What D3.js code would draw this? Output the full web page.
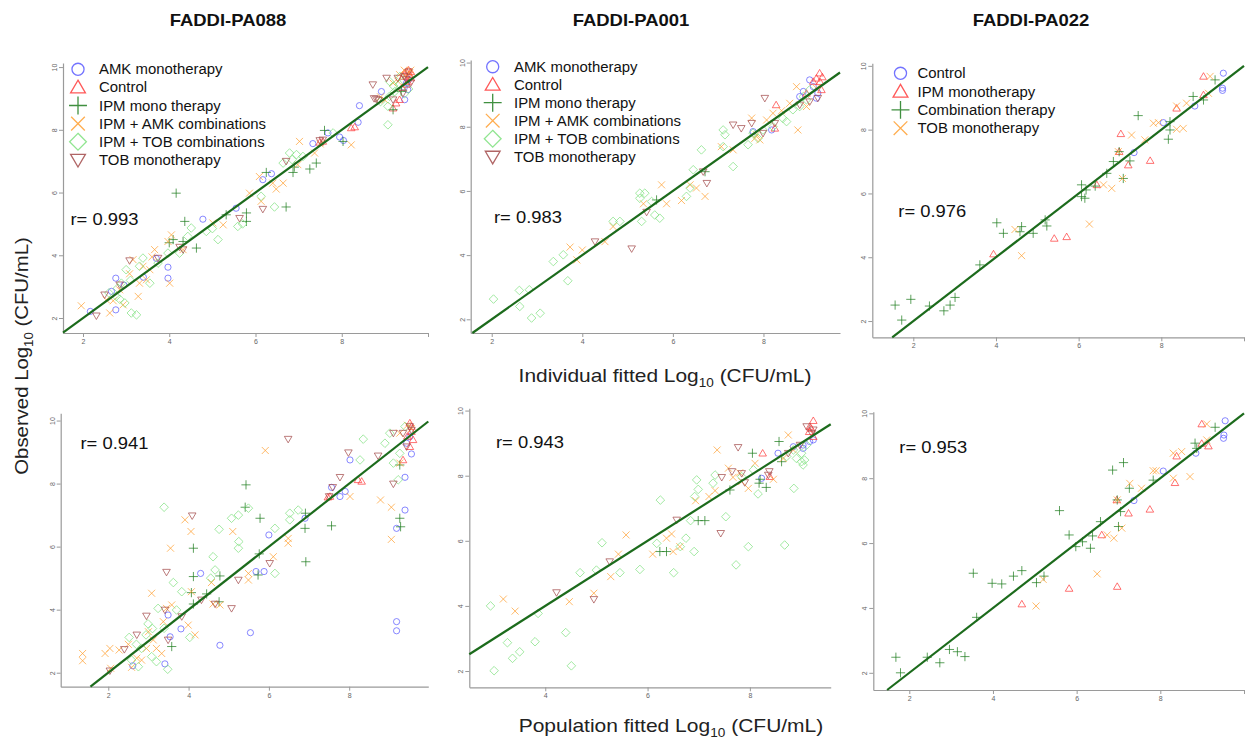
<!DOCTYPE html>
<html><head><meta charset="utf-8">
<script src="https://cdn.jsdelivr.net/npm/d3@7"></script>
<style>body{margin:0;background:#fff}svg{display:block}</style>
</head><body>
<svg id="c" width="1247" height="747"></svg>
<script>
// ---------------- DATA ----------------
const titles = ["FADDI-PA088", "FADDI-PA001", "FADDI-PA022"];
const rValues = ["r= 0.993", "r= 0.983", "r= 0.976", "r= 0.941", "r= 0.943", "r= 0.953"];
const legendNamesA = ["AMK monotherapy", "Control", "IPM mono therapy", "IPM + AMK combinations", "IPM + TOB combinations", "TOB monotherapy"];
const legendNamesB = ["Control", "IPM monotherapy", "Combination therapy", "TOB monotherapy"];
const xTickValues = [2, 4, 6, 8, 10];
const yTickValues = [2, 4, 6, 8, 10];

// Panel 1: FADDI-PA088 individual fit
const p1_amk = [[2.17,2.21],[2.76,3.27],[2.76,2.26],[2.66,2.85],[3.97,3.62],[3.97,3.27],[3.70,3.90],[4.78,5.15],[5.55,5.50],[6.37,6.60],[6.17,6.41],[7.68,7.90],[7.33,7.56],[7.95,7.77],[8.04,7.66],[8.41,8.77],[8.38,8.24],[8.92,9.22],[9.46,8.96],[9.53,9.28],[9.50,9.49],[9.55,9.60],[9.45,9.35],[3.40,3.30],[2.95,3.05]];
const p1_ctrl = [[9.50,9.86],[9.57,9.76],[9.42,9.70],[9.53,9.54],[9.34,8.96],[9.26,8.85],[9.19,8.69],[8.22,8.06],[8.30,8.09],[7.56,7.63],[7.49,7.60],[9.55,9.90],[9.45,9.80],[9.60,9.65],[9.50,9.45],[9.40,9.35],[9.60,9.85]];
const p1_ipm = [[4.16,5.98],[4.36,5.08],[4.09,4.50],[4.63,4.23],[4.32,4.44],[6.71,5.54],[5.79,5.35],[5.79,5.08],[6.25,6.64],[6.87,6.64],[6.90,6.81],[7.26,6.75],[7.41,6.94],[7.60,7.98],[8.03,7.63],[9.19,8.64],[9.38,9.22],[5.32,5.29],[4.00,4.40]];
const p1_amkc = [[1.96,2.39],[2.62,2.16],[2.93,2.42],[3.28,2.69],[3.31,3.11],[3.16,3.86],[3.66,4.18],[4.05,4.65],[4.01,3.11],[3.97,4.44],[4.32,4.18],[5.25,4.97],[5.01,5.03],[5.86,5.98],[6.13,5.72],[6.09,6.51],[6.40,6.30],[6.48,6.11],[6.64,6.30],[6.98,6.89],[7.02,7.63],[7.37,7.26],[8.22,7.52],[9.34,9.76],[9.19,9.49],[9.57,9.81],[3.39,3.65],[3.08,3.41],[3.47,3.22],[2.54,2.58],[2.85,2.90],[3.55,3.54],[9.45,9.90],[9.60,9.90],[9.30,9.55],[9.50,9.70],[8.90,9.05],[9.00,8.95],[2.70,2.55],[3.60,3.95],[7.50,7.55]];
const p1_tobc = [[3.24,2.10],[3.12,2.16],[2.97,2.48],[2.77,2.69],[2.89,3.11],[3.00,3.54],[3.31,3.65],[3.55,3.11],[3.39,3.91],[3.74,3.75],[3.97,4.07],[4.24,4.07],[4.43,4.60],[4.51,4.87],[4.86,4.76],[5.13,4.50],[5.59,4.92],[6.13,5.88],[6.44,5.54],[6.64,6.94],[6.79,7.26],[6.95,7.21],[7.10,7.15],[9.07,8.16],[9.07,8.75],[9.11,9.07],[9.23,9.22],[9.34,9.44],[9.11,9.54],[7.80,7.90],[9.35,9.70],[9.55,9.30],[9.20,9.40],[9.45,9.15],[8.90,8.90],[2.80,2.95],[2.60,2.80],[2.85,2.60],[3.10,3.20],[5.00,4.85],[5.70,5.00],[6.85,7.05]];
const p1_tob = [[2.31,2.07],[2.50,2.74],[2.85,3.06],[3.08,3.83],[3.74,3.91],[4.32,4.18],[4.24,4.26],[5.63,5.18],[6.17,5.47],[6.71,7.00],[7.49,7.66],[7.56,7.68],[8.72,9.44],[9.04,9.65],[8.80,8.98],[9.30,9.65],[9.50,9.60],[9.42,9.17],[9.19,8.96],[9.55,9.85],[9.45,9.70],[9.60,9.50],[8.75,9.00],[8.85,8.95]];

// Panel 2: FADDI-PA001 individual fit
const p2_amk = [[9.02,9.46],[8.88,9.10],[9.17,8.89],[8.18,7.90],[7.77,7.85],[9.10,9.25],[8.80,8.94],[9.20,9.05]];
const p2_ctrl = [[9.24,9.67],[9.17,9.51],[9.28,9.15],[9.10,9.41],[8.28,8.68],[8.25,7.95],[8.95,9.04],[9.25,9.40],[9.30,9.55]];
const p2_ipm = [[5.64,5.72],[6.71,6.60]];
const p2_amkc = [[3.73,4.25],[3.88,3.85],[4.00,4.16],[4.50,4.42],[4.68,4.89],[5.35,5.60],[5.75,6.19],[5.86,5.60],[6.19,5.70],[6.38,6.19],[6.52,6.09],[6.71,5.83],[7.07,7.38],[7.33,7.28],[7.74,8.27],[7.81,7.64],[7.92,7.59],[8.07,8.21],[8.76,7.90],[8.73,9.25],[8.58,8.73],[8.95,8.63],[9.17,9.20],[8.21,8.42],[7.85,7.75],[8.40,8.50]];
const p2_tobc = [[2.04,2.63],[2.61,2.90],[2.62,2.40],[2.83,2.92],[2.88,2.04],[3.07,2.19],[3.36,3.80],[3.58,4.01],[3.68,3.20],[4.68,5.05],[4.83,5.05],[5.31,5.05],[5.27,5.93],[5.38,5.93],[5.27,5.77],[5.60,5.25],[5.71,5.15],[5.53,5.67],[6.30,5.83],[6.38,6.09],[6.45,6.66],[6.63,7.28],[7.11,7.90],[7.15,7.75],[7.11,7.38],[7.33,6.76],[7.66,7.44],[7.88,7.64],[8.21,8.00],[8.51,8.16],[8.65,8.53],[8.80,8.63],[8.88,8.94],[8.95,8.84],[8.43,8.26],[7.77,7.80],[7.99,7.90],[9.02,9.15]];
const p2_tob = [[4.28,4.42],[5.09,4.20],[5.42,5.34],[6.67,6.60],[6.75,6.24],[7.33,8.06],[7.51,7.95],[7.74,8.11],[8.03,8.89],[7.99,7.80],[8.25,8.11],[8.80,8.68],[9.20,8.89],[9.02,8.78]];

// Panel 3: FADDI-PA022 individual fit
const p3_ctrl = [[9.50,9.77],[9.48,9.30],[9.48,9.23],[8.81,8.74],[8.05,8.22],[7.34,7.28]];
const p3_ipm = [[9.02,9.67],[9.02,9.09],[8.37,8.67],[7.02,7.87],[6.98,7.31],[7.20,6.89],[7.73,7.03],[6.44,6.27],[5.71,4.64],[5.41,4.59],[3.94,4.10]];
const p3_comb = [[1.56,2.50],[1.72,2.03],[1.94,2.68],[2.39,2.47],[2.74,2.32],[2.89,2.50],[3.01,2.74],[3.61,3.76],[4.02,5.08],[4.18,4.75],[4.58,4.80],[4.62,4.96],[4.90,4.75],[5.19,5.17],[5.23,4.98],[6.07,6.27],[6.07,5.90],[6.15,5.85],[6.18,6.11],[6.40,6.23],[6.68,6.63],[6.84,7.00],[7.24,7.02],[7.08,6.47],[7.44,8.44],[8.17,7.70],[8.21,7.99],[8.21,8.25],[8.77,9.04],[9.02,8.93],[9.30,9.56],[6.98,7.31]];
const p3_tob = [[4.46,4.87],[4.62,4.05],[6.26,5.04],[6.60,6.27],[6.80,6.16],[7.06,6.47],[7.28,7.83],[7.60,7.68],[7.81,8.20],[7.93,8.22],[8.37,8.74],[8.37,8.01],[8.53,8.04],[8.61,8.83],[9.14,9.14],[9.18,9.67],[6.96,7.31]];

// Panel 4: FADDI-PA088 population fit
const p4_amk = [[2.61,2.22],[3.41,2.28],[3.49,3.83],[3.54,3.14],[3.81,3.39],[4.30,5.15],[4.78,2.87],[5.54,3.27],[5.88,5.21],[6.00,6.37],[5.68,5.21],[6.90,6.90],[7.56,7.88],[7.77,7.59],[7.90,7.75],[8.02,8.75],[9.18,3.62],[9.18,3.33],[9.18,6.58],[9.39,7.16],[9.39,8.20],[9.55,8.94],[9.51,9.49],[9.43,9.28]];
const p4_ctrl = [[8.31,8.07],[8.22,8.12],[9.34,8.75],[9.51,9.17],[9.55,9.81],[9.55,9.65],[9.59,9.39],[9.51,9.92],[7.52,7.59],[7.47,7.57],[9.45,9.50]];
const p4_ipm = [[4.12,5.95],[4.12,5.05],[4.07,4.54],[4.12,4.18],[4.45,4.50],[4.78,5.07],[4.76,4.25],[5.43,7.96],[5.41,7.25],[5.76,5.77],[5.78,6.90],[5.73,5.10],[6.91,7.06],[6.90,6.58],[6.92,5.52],[7.56,6.66],[9.26,6.90],[9.28,6.63],[9.26,8.59],[3.58,2.83]];
const p4_amkc = [[1.36,2.61],[1.36,2.38],[1.92,2.61],[2.04,2.77],[2.06,2.14],[2.27,2.72],[2.58,2.17],[2.71,2.46],[2.83,2.40],[2.95,2.77],[3.12,3.04],[3.08,4.52],[3.20,2.77],[3.33,2.61],[3.37,3.62],[3.45,4.04],[3.55,5.95],[3.58,4.15],[3.91,6.85],[4.06,6.48],[3.99,3.51],[4.16,3.20],[4.57,4.86],[4.61,4.18],[4.78,4.15],[5.10,6.48],[5.49,5.15],[5.49,4.94],[5.91,9.05],[6.11,5.68],[6.48,6.26],[6.48,6.11],[8.02,7.59],[8.78,7.48],[9.05,7.25],[9.05,6.23],[9.26,8.65],[9.26,9.60],[4.07,4.57],[2.50,2.90],[3.00,3.30],[9.45,9.85],[9.55,9.75]];
const p4_tobc = [[2.52,3.12],[2.58,2.40],[2.75,2.19],[2.83,2.77],[2.94,3.20],[2.99,3.55],[3.08,2.51],[3.20,2.35],[3.48,2.11],[3.24,4.04],[3.39,7.25],[3.39,3.41],[3.62,4.86],[3.70,3.99],[3.83,4.57],[4.03,3.12],[4.61,5.68],[4.66,5.26],[4.76,6.55],[5.07,6.90],[5.24,7.00],[5.25,6.16],[5.24,5.95],[5.49,7.22],[6.15,6.58],[6.15,5.15],[6.52,7.06],[6.52,6.85],[6.73,7.16],[8.27,8.75],[8.35,9.41],[8.89,9.28],[9.01,9.60],[9.10,8.65],[9.22,8.12],[9.26,8.96],[9.39,9.81],[2.70,2.90],[3.10,3.40],[4.55,5.00]];
const p4_tob = [[2.04,2.06],[2.40,2.74],[2.71,3.20],[2.95,3.80],[3.41,3.99],[3.45,5.19],[3.49,3.04],[3.83,3.78],[4.09,6.98],[4.32,4.31],[4.66,4.18],[5.07,4.04],[5.24,4.94],[6.02,5.47],[6.48,9.41],[7.59,7.88],[7.77,8.20],[7.98,8.98],[8.72,8.88],[9.10,9.60],[9.10,7.99],[9.34,9.60],[9.43,9.17],[9.51,9.81],[7.50,7.59],[9.55,9.70]];

// Panel 5: FADDI-PA001 population fit
const p5_amk = [[8.23,7.92],[8.55,8.69],[9.04,8.94],[9.17,9.05],[9.04,8.84],[8.85,8.89],[9.24,9.10]];
const p5_ctrl = [[8.25,8.69],[8.39,7.97],[9.24,9.69],[9.17,9.51],[9.24,9.20],[9.16,9.35],[9.20,9.45]];
const p5_ipm = [[6.24,5.67],[6.37,5.67],[6.99,6.62],[7.12,6.62],[7.61,7.56],[8.05,8.69],[8.18,7.77],[8.32,7.64],[8.57,9.05],[8.62,8.43],[8.20,7.89]];
const p5_amkc = [[3.18,4.21],[3.41,3.84],[4.47,4.13],[4.95,4.39],[5.28,4.90],[5.43,5.59],[5.58,6.18],[6.10,5.59],[6.37,6.08],[6.47,6.21],[6.50,5.67],[6.63,5.82],[6.94,7.23],[7.20,7.36],[7.32,7.54],[7.36,8.79],[7.58,8.23],[7.67,7.95],[7.84,7.82],[7.97,7.61],[8.10,8.38],[8.46,7.89],[8.75,9.25],[8.65,8.53],[8.85,8.79],[7.80,8.09]];
const p5_tobc = [[2.93,4.00],[3.00,2.01],[3.26,2.87],[3.36,2.39],[3.50,2.59],[3.80,2.90],[3.86,3.77],[4.40,3.18],[4.51,2.16],[4.68,5.02],[5.00,5.10],[5.11,5.94],[5.46,5.02],[5.85,5.12],[6.18,5.92],[6.25,7.25],[6.51,5.02],[6.64,5.82],[6.75,6.08],[6.84,6.62],[6.91,5.67],[6.92,7.36],[6.99,7.58],[6.96,7.87],[7.28,7.77],[7.32,8.02],[7.53,6.74],[7.73,5.26],[7.84,7.97],[7.97,5.82],[8.16,7.44],[8.68,5.87],[8.86,7.61],[8.91,8.53],[9.04,8.33],[9.07,8.48],[9.01,8.69],[8.85,8.79],[8.72,8.59],[9.11,8.94],[9.01,8.43],[8.07,8.18]];
const p5_tob = [[4.22,4.41],[4.95,4.20],[5.26,5.36],[6.57,6.64],[7.43,6.23],[7.45,7.95],[7.65,8.13],[7.77,8.87],[7.84,8.07],[7.90,7.79],[8.38,8.13],[8.36,8.02],[8.75,8.69],[8.98,8.94],[9.11,9.51],[9.21,9.30],[9.24,9.41]];

// Panel 6: FADDI-PA022 population fit
const p6_ctrl = [[9.55,9.77],[9.52,9.33],[9.51,9.23],[8.85,8.77],[8.07,8.22],[7.37,7.31]];
const p6_ipm = [[8.99,9.67],[8.99,9.07],[9.15,8.99],[8.39,8.68],[8.35,7.86],[6.96,7.33],[7.24,6.92],[7.75,7.04],[6.60,6.25],[6.97,4.66],[5.82,4.60],[4.69,4.12]];
const p6_comb = [[1.68,2.48],[1.79,2.00],[2.43,2.48],[2.73,2.31],[2.96,2.72],[3.15,2.65],[3.33,2.50],[3.61,3.71],[3.53,5.07],[3.98,4.76],[4.21,4.74],[4.49,4.98],[4.69,5.15],[5.04,4.78],[5.22,4.98],[5.59,7.00],[5.82,6.25],[5.98,5.89],[6.14,6.04],[6.33,5.84],[6.38,6.22],[6.57,6.66],[6.86,8.25],[7.12,8.48],[7.00,6.51],[7.05,6.97],[7.26,7.69],[7.83,7.94],[8.83,9.08],[8.87,8.92],[9.31,9.57],[6.97,7.33]];
const p6_tob = [[5.03,4.06],[5.20,4.88],[6.49,5.05],[6.73,6.25],[6.89,6.15],[7.08,6.46],[7.27,7.84],[7.55,7.69],[7.83,8.23],[7.90,8.23],[8.31,8.77],[8.31,8.00],[8.51,8.82],[8.71,8.05],[9.11,9.67],[9.11,9.18],[6.97,7.33]];

// ---------------- STYLE / LAYOUT ----------------
const FONT = "'Liberation Sans', Arial, Helvetica, sans-serif";
const C = {blue:"#5a5aff", red:"#ff3b3b", dgreen:"#1f7d1f", orange:"#ff9f30", lgreen:"#7ee07e", brown:"#a24a4a"};
const seriesStyleA = [
  {sym:"circle", color:C.blue}, {sym:"tri", color:C.red}, {sym:"plus", color:C.dgreen},
  {sym:"times", color:C.orange}, {sym:"diamond", color:C.lgreen}, {sym:"dtri", color:C.brown}];
const seriesStyleB = [
  {sym:"circle", color:C.blue}, {sym:"tri", color:C.red}, {sym:"plus", color:C.dgreen}, {sym:"times", color:C.orange}];

const panels = [
  {data:[p1_amk,p1_ctrl,p1_ipm,p1_amkc,p1_tobc,p1_tob], styles:seriesStyleA, xd:[1.536,10], xr:[63,428], yd:[1.522,10.13], yr:[333,63], r:[70.5,225], legend:{names:legendNamesA, sx:78, tx:99, y0:69.3, dy:18.1}},
  {data:[p2_amk,p2_ctrl,p2_ipm,p2_amkc,p2_tobc,p2_tob], styles:seriesStyleA, xd:[1.536,9.69], xr:[470.7,840], yd:[1.573,10.08], yr:[333,60], r:[494,223], legend:{names:legendNamesA, sx:492.7, tx:514, y0:66.7, dy:18}},
  {data:[p3_ctrl,p3_ipm,p3_comb,p3_tob], styles:seriesStyleB, xd:[1.008,10], xr:[872.3,1244], yd:[1.49,10.08], yr:[337.3,63.3], r:[898.3,217], legend:{names:legendNamesB, sx:900.5, tx:917.5, y0:73.3, dy:18.3}},
  {data:[p4_amk,p4_ctrl,p4_ipm,p4_amkc,p4_tobc,p4_tob], styles:seriesStyleA, xd:[0.815,9.97], xr:[60.7,428.3], yd:[1.556,10.23], yr:[686.7,413.3], r:[80.5,449]},
  {data:[p5_amk,p5_ctrl,p5_ipm,p5_amkc,p5_tobc,p5_tob], styles:seriesStyleA, xd:[2.515,9.58], xr:[469.3,830.7], yd:[1.5,10.07], yr:[687.3,408.3], r:[496,447.5]},
  {data:[p6_ctrl,p6_ipm,p6_comb,p6_tob], styles:seriesStyleB, xd:[1.14,10], xr:[873.3,1244], yd:[1.47,10.05], yr:[690,411.7], r:[899.3,453]}
];

function symPath(type, k) {
  switch (type) {
    case "circle": { const r = 3.1*k; return `M${r},0A${r},${r} 0 1,1 ${-r},0A${r},${r} 0 1,1 ${r},0Z`; }
    case "tri": { const a = 3.8*k, t = 3.7*k, b = 2.8*k; return `M0,${-t}L${a},${b}L${-a},${b}Z`; }
    case "dtri": { const a = 3.8*k, t = 3.7*k, b = 2.8*k; return `M0,${t}L${a},${-b}L${-a},${-b}Z`; }
    case "plus": { const r = 4.6*k; return `M${-r},0L${r},0M0,${-r}L0,${r}`; }
    case "times": { const r = 3.5*k; return `M${-r},${-r}L${r},${r}M${-r},${r}L${r},${-r}`; }
    case "diamond": { const r = 4.3*k; return `M0,${-r}L${r},0L0,${r}L${-r},0Z`; }
  }
}
// widen text horizontally (reference glyphs are slightly wider than Liberation Sans)
function stretch(sel, f) {
  const n = sel.node();
  const L = n.getComputedTextLength();
  sel.attr("textLength", (L * f).toFixed(1)).attr("lengthAdjust", "spacingAndGlyphs");
  return sel;
}

const svg = d3.select("#c");

// titles
const titleX = [228, 631, 1031];
titles.forEach((t, i) => {
  const s = svg.append("text").attr("x", titleX[i]).attr("y", 26).attr("text-anchor", "middle")
    .attr("font-family", FONT).attr("font-weight", "bold").attr("font-size", 16.5).attr("fill", "#111").text(t);
  stretch(s, 1.12);
});

panels.forEach((p, pi) => {
  const x = d3.scaleLinear().domain(p.xd).range(p.xr);
  const y = d3.scaleLinear().domain(p.yd).range(p.yr);
  const g = svg.append("g");
  const bottom = p.yr[0], left = p.xr[0];

  // axes
  const xt = xTickValues.filter(v => v >= p.xd[0] - 1e-6 && v <= p.xd[1] + 1e-6);
  const yt = yTickValues.filter(v => v >= p.yd[0] - 1e-6 && v <= p.yd[1] + 1e-6);
  const gx = g.append("g").attr("transform", `translate(0,${bottom})`)
    .call(d3.axisBottom(x).tickValues(xt).tickSize(4).tickSizeOuter(0).tickPadding(2)
      .tickFormat(v => v === 10 ? "" : String(v)));
  const gy = g.append("g").attr("transform", `translate(${left},0)`)
    .call(d3.axisLeft(y).tickValues(yt).tickSize(4).tickSizeOuter(0).tickFormat(d3.format("d")));
  [gx, gy].forEach(a => {
    a.select(".domain").attr("stroke", "#9a9a9a").attr("stroke-width", 1.2);
    a.selectAll(".tick line").attr("stroke", "#9a9a9a");
    a.selectAll("text").attr("font-size", 7).attr("fill", "#666").attr("font-family", FONT);
  });
  gy.selectAll(".tick text").attr("transform", "rotate(-90)").attr("x", 0).attr("y", -6)
    .attr("dy", 0).attr("text-anchor", "middle");

  // points
  p.data.forEach((ser, si) => {
    const st = p.styles[si];
    g.append("g").selectAll("path").data(ser).join("path")
      .attr("d", symPath(st.sym, 1))
      .attr("transform", d => `translate(${x(d[0])},${y(d[1])})`)
      .attr("fill", "none").attr("stroke", st.color).attr("stroke-width", 1)
      .attr("stroke-opacity", 0.72);
  });

  // identity line
  const lo = Math.max(p.xd[0], p.yd[0]), hi = Math.min(p.xd[1], p.yd[1]);
  g.append("line").attr("x1", x(lo)).attr("y1", y(lo)).attr("x2", x(hi)).attr("y2", y(hi))
    .attr("stroke", "#1c6b1c").attr("stroke-width", 2.2);

  // r value
  const rt = g.append("text").attr("x", p.r[0]).attr("y", p.r[1]).attr("font-family", FONT)
    .attr("font-size", 17).attr("fill", "#111").text(rValues[pi]);
  stretch(rt, 1.08);

  // legend
  if (p.legend) {
    const L = p.legend;
    L.names.forEach((n, i) => {
      const cy = L.y0 + i * L.dy;
      const st = p.styles[i];
      g.append("path").attr("d", symPath(st.sym, 1.95)).attr("transform", `translate(${L.sx},${cy})`)
        .attr("fill", "none").attr("stroke", st.color).attr("stroke-width", 1.3).attr("stroke-opacity", 0.85);
      const lt = g.append("text").attr("x", L.tx).attr("y", cy + 5).attr("font-family", FONT)
        .attr("font-size", 14).attr("fill", "#111").text(n);
      stretch(lt, 1.065);
    });
  }
});

// axis titles
function subLabel(sel, pre, post) {
  sel.append("tspan").text(pre);
  sel.append("tspan").attr("font-size", 12).attr("dy", 5).text("10");
  sel.append("tspan").attr("dy", -5).text(post);
  return sel;
}
stretch(subLabel(svg.append("text").attr("x", 665).attr("y", 382).attr("text-anchor", "middle")
  .attr("font-family", FONT).attr("font-size", 18.5).attr("fill", "#222"), "Individual fitted Log", " (CFU/mL)"), 1.13);
stretch(subLabel(svg.append("text").attr("x", 671).attr("y", 732).attr("text-anchor", "middle")
  .attr("font-family", FONT).attr("font-size", 18.5).attr("fill", "#222"), "Population fitted Log", " (CFU/mL)"), 1.135);
stretch(subLabel(svg.append("text").attr("transform", "translate(28,356) rotate(-90)").attr("text-anchor", "middle")
  .attr("font-family", FONT).attr("font-size", 18.5).attr("fill", "#222"), "Observed Log", " (CFU/mL)"), 1.1);
</script>
</body></html>
